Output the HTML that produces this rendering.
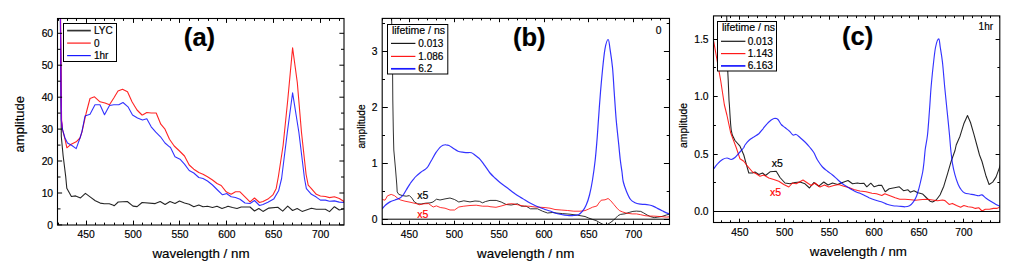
<!DOCTYPE html>
<html><head><meta charset="utf-8"><title>Spectra</title>
<style>html,body{margin:0;padding:0;background:#fff}svg{display:block}text{font-family:"Liberation Sans", sans-serif;stroke:#000;stroke-width:.18px}text[fill="#f00"]{stroke:#f00}</style>
</head><body>
<svg width="1024" height="280" viewBox="0 0 1024 280">
<rect width="1024" height="280" fill="#fff"/>
<g id="a">
<clipPath id="clipa"><rect x="57.5" y="18.5" width="286.5" height="206.5"/></clipPath>
<g clip-path="url(#clipa)" fill="none" stroke-linejoin="round">
<polyline points="60.3,0.5 60.4,19.0 61.3,136.5 63.1,155.5 65.7,176.5 66.8,188.3 71.4,196.5 75.6,195.9 80.5,197.9 85.4,193.4 90.4,197.1 95.3,200.8 100.2,203.1 104.3,203.8 109.3,203.8 113.4,205.3 114.1,205.8 118.2,202.0 127.3,201.5 133.0,206.1 137.1,206.6 142.1,202.5 155.2,203.6 160.2,201.5 165.1,204.5 170.0,201.5 175.0,203.5 179.5,201.0 184.5,203.0 189.2,204.2 193.8,206.8 198.8,205.0 203.0,206.8 207.5,206.2 212.5,207.5 217.0,206.2 222.0,208.5 226.2,207.0 228.0,206.2 232.5,207.5 237.0,208.5 241.2,207.0 250.0,207.0 254.5,211.0 258.8,208.5 263.0,211.4 268.8,208.1 277.8,207.3 282.7,211.1 287.7,206.1 292.6,210.5 297.2,208.5 302.1,211.4 311.4,208.3 316.3,209.2 325.4,209.2 329.5,211.6 334.4,206.7 339.3,210.0 344.3,208.7" stroke="#000" stroke-width="1.1" stroke-opacity="0.86"/>
<polyline points="60.5,0.5 60.6,19.0 61.2,85.5 61.6,120.5 62.6,129.9 65.0,139.2 66.9,147.8 71.2,144.2 76.2,141.8 80.0,138.0 82.0,131.8 86.2,113.0 90.0,98.5 94.5,96.8 100.0,101.8 105.0,103.0 109.5,104.8 113.8,98.0 118.0,91.0 122.5,89.2 127.5,91.8 132.0,101.8 137.0,110.0 142.0,115.0 142.5,115.0 146.8,112.5 151.2,113.0 156.2,113.0 160.8,124.2 165.0,129.2 169.5,139.2 174.2,146.0 179.5,151.0 184.5,156.0 189.2,165.0 193.8,169.2 198.8,172.5 203.0,174.2 207.5,176.8 212.5,180.0 217.0,183.5 221.2,185.5 226.2,191.8 227.5,192.5 231.2,194.2 235.5,191.8 240.0,191.8 245.0,196.8 250.0,201.8 254.5,198.0 259.5,202.5 263.0,201.5 267.9,199.1 272.9,194.9 276.2,188.4 278.4,176.5 283.1,145.5 287.8,99.5 292.6,47.9 297.3,82.5 301.5,132.5 306.1,174.5 308.2,185.1 311.4,188.6 316.3,194.3 320.4,196.0 325.4,196.5 329.5,197.6 334.4,196.8 339.3,198.5 344.3,201.7" stroke="#f00" stroke-width="1.1" stroke-opacity="0.86"/>
<polyline points="60.3,0.5 60.4,19.0 60.9,85.5 61.3,120.5 62.6,129.9 65.0,138.0 67.5,143.0 71.9,145.5 76.2,148.6 80.0,138.0 81.9,131.8 85.0,116.0 90.0,114.2 95.0,104.8 100.0,104.8 104.5,114.8 109.5,105.5 113.8,104.8 118.8,104.8 123.0,102.5 128.0,106.8 132.5,115.0 137.5,118.0 142.5,120.0 142.5,120.0 146.8,118.8 151.2,126.8 155.8,132.2 160.5,136.8 165.0,143.0 169.5,146.8 170.5,147.5 175.0,156.8 180.0,159.2 184.5,164.2 189.2,170.5 193.8,173.0 198.8,177.5 203.0,178.5 207.5,181.0 212.5,185.0 217.5,190.0 222.5,194.8 227.0,193.5 227.5,194.2 231.2,196.8 235.5,197.5 240.0,199.2 245.0,203.0 250.0,203.5 254.5,200.5 259.5,205.5 263.0,204.5 267.9,202.3 273.7,199.1 278.6,190.8 281.6,178.5 287.3,132.5 292.6,92.8 298.9,132.5 304.5,178.5 306.4,188.6 311.4,194.3 316.3,197.1 320.4,200.1 325.4,200.1 329.5,201.3 334.4,200.9 339.3,202.1 344.3,202.6" stroke="#00f" stroke-width="1.1" stroke-opacity="0.8"/>
<polyline points="60.5,0.0 60.5,19.0 61.0,85.5 61.5,120.5 62.3,127.5" stroke="#9000e0" stroke-width="1.1" stroke-opacity="0.86"/>
</g>
<rect x="57.5" y="18.5" width="286.5" height="206.5" fill="none" stroke="#000" stroke-width="1.1"/>
<path d="M58.5,225.0v-2.4M58.5,18.5v2.4M67.5,225.0v-2.4M67.5,18.5v2.4M76.5,225.0v-2.4M76.5,18.5v2.4M86.5,225.0v-4.4M86.5,18.5v4.4M95.5,225.0v-2.4M95.5,18.5v2.4M104.5,225.0v-2.4M104.5,18.5v2.4M114.5,225.0v-2.4M114.5,18.5v2.4M123.5,225.0v-2.4M123.5,18.5v2.4M133.5,225.0v-4.4M133.5,18.5v4.4M142.5,225.0v-2.4M142.5,18.5v2.4M151.5,225.0v-2.4M151.5,18.5v2.4M161.5,225.0v-2.4M161.5,18.5v2.4M170.5,225.0v-2.4M170.5,18.5v2.4M179.5,225.0v-4.4M179.5,18.5v4.4M189.5,225.0v-2.4M189.5,18.5v2.4M198.5,225.0v-2.4M198.5,18.5v2.4M208.5,225.0v-2.4M208.5,18.5v2.4M217.5,225.0v-2.4M217.5,18.5v2.4M226.5,225.0v-4.4M226.5,18.5v4.4M236.5,225.0v-2.4M236.5,18.5v2.4M245.5,225.0v-2.4M245.5,18.5v2.4M254.5,225.0v-2.4M254.5,18.5v2.4M264.5,225.0v-2.4M264.5,18.5v2.4M273.5,225.0v-4.4M273.5,18.5v4.4M283.5,225.0v-2.4M283.5,18.5v2.4M292.5,225.0v-2.4M292.5,18.5v2.4M301.5,225.0v-2.4M301.5,18.5v2.4M311.5,225.0v-2.4M311.5,18.5v2.4M320.5,225.0v-4.4M320.5,18.5v4.4M329.5,225.0v-2.4M329.5,18.5v2.4M339.5,225.0v-2.4M339.5,18.5v2.4M57.5,224.9h4.6M344.0,224.9h-4.6M57.5,208.9h3.0M344.0,208.9h-3.0M57.5,193.0h4.6M344.0,193.0h-4.6M57.5,177.0h3.0M344.0,177.0h-3.0M57.5,161.0h4.6M344.0,161.0h-4.6M57.5,145.1h3.0M344.0,145.1h-3.0M57.5,129.1h4.6M344.0,129.1h-4.6M57.5,113.1h3.0M344.0,113.1h-3.0M57.5,97.2h4.6M344.0,97.2h-4.6M57.5,81.2h3.0M344.0,81.2h-3.0M57.5,65.2h4.6M344.0,65.2h-4.6M57.5,49.3h3.0M344.0,49.3h-3.0M57.5,33.3h4.6M344.0,33.3h-4.6" stroke="#000" stroke-width="1" fill="none"/>
<g font-size="10.3" fill="#000">
<text x="86.2" y="237.8" text-anchor="middle">450</text>
<text x="133.1" y="237.8" text-anchor="middle">500</text>
<text x="180.0" y="237.8" text-anchor="middle">550</text>
<text x="226.8" y="237.8" text-anchor="middle">600</text>
<text x="273.7" y="237.8" text-anchor="middle">650</text>
<text x="320.6" y="237.8" text-anchor="middle">700</text>
<text x="53.1" y="228.6" text-anchor="end">0</text>
<text x="53.1" y="196.7" text-anchor="end">10</text>
<text x="53.1" y="164.7" text-anchor="end">20</text>
<text x="53.1" y="132.8" text-anchor="end">30</text>
<text x="53.1" y="100.9" text-anchor="end">40</text>
<text x="53.1" y="68.9" text-anchor="end">50</text>
<text x="53.1" y="37.0" text-anchor="end">60</text>
</g>
<text x="201.0" y="257.5" font-size="13.35" text-anchor="middle">wavelength / nm</text>
<text transform="translate(24.3,124.2) rotate(-90)" font-size="13" text-anchor="middle">amplitude</text>
<text x="199.5" y="45.7" font-size="25.6" font-weight="bold" text-anchor="middle">(a)</text>
</g>
<rect x="63.5" y="23.5" width="53.0" height="38.0" fill="#fff" stroke="#000" stroke-width="1"/>
<g font-size="10">
<line x1="67.1" x2="90.8" y1="30.6" y2="30.6" stroke="#000" stroke-width="1.7" stroke-opacity="0.8"/>
<text x="93.9" y="34.2">LYC</text>
<line x1="67.1" x2="90.8" y1="43.1" y2="43.1" stroke="#f00" stroke-width="1.2" stroke-opacity="0.9"/>
<text x="93.9" y="46.7">0</text>
<line x1="67.1" x2="90.8" y1="55.6" y2="55.6" stroke="#00f" stroke-width="1.2" stroke-opacity="0.9"/>
<text x="93.9" y="59.2">1hr</text>
</g>
<g id="b">
<clipPath id="clipb"><rect x="382.2" y="18.4" width="287.3" height="206.1"/></clipPath>
<g clip-path="url(#clipb)" fill="none" stroke-linejoin="round">
<polyline points="391.4,0.0 391.6,18.0 392.5,60.0 392.8,100.0 393.3,130.0 393.8,150.0 395.6,170.0 396.8,185.0 397.2,191.9 398.8,194.4 402.5,195.6 406.2,196.2 409.4,195.6 411.9,198.1 414.4,201.9 417.5,203.8 421.2,204.0 425.5,203.2 430.0,202.9 433.0,202.0 436.5,199.2 440.0,200.0 445.0,198.9 450.0,198.0 454.5,199.5 458.8,202.0 463.8,200.8 470.0,201.9 475.0,201.0 479.4,201.3 482.5,202.8 485.6,201.5 490.0,200.4 496.2,200.4 501.2,202.0 506.2,204.5 511.2,205.0 517.5,203.8 521.2,206.2 526.2,206.2 530.5,208.8 537.5,208.8 542.5,211.2 547.5,213.0 552.5,212.5 556.2,213.0 562.5,213.6 570.0,214.2 577.5,215.2 581.0,215.8 585.0,216.5 588.8,218.1 592.5,219.4 596.2,220.6 600.0,222.8 603.8,224.8 606.9,224.8 610.0,222.8 613.1,220.6 615.6,218.1 618.1,215.6 620.6,214.4 625.0,213.8 629.3,212.4 632.9,211.4 636.4,211.1 640.7,211.4 643.6,212.9 647.1,215.0 650.7,216.7 654.3,217.6 657.9,217.1 662.1,216.4 666.4,215.0 670.2,213.9" stroke="#000" stroke-width="0.95" stroke-opacity="0.86"/>
<polyline points="382.2,199.4 385.0,200.2 387.5,195.8 391.2,194.4 394.4,195.6 397.5,198.1 400.6,200.0 405.0,201.2 410.0,202.2 413.8,203.1 417.5,203.9 419.1,204.8 423.8,203.8 428.5,203.6 433.2,207.0 436.4,205.9 440.3,207.5 445.0,208.2 450.0,210.0 454.5,210.0 458.8,207.0 463.8,206.2 470.0,205.5 476.2,205.2 482.5,206.2 488.0,206.2 490.0,206.7 496.0,207.3 502.0,205.8 508.0,204.0 512.5,203.7 517.8,204.8 524.5,206.2 529.0,206.2 535.0,207.0 541.0,207.3 545.0,207.6 550.0,208.2 555.0,209.5 561.2,210.0 567.5,210.5 573.8,211.2 580.0,211.2 585.0,210.6 588.8,209.0 592.5,207.2 596.9,206.0 598.8,203.1 601.2,200.2 605.0,199.8 608.1,198.5 610.6,200.6 613.8,204.4 616.9,208.1 619.4,210.6 622.5,211.9 626.2,213.1 632.1,213.9 636.4,213.9 640.7,214.7 645.0,215.7 649.3,216.1 653.6,216.1 657.9,216.4 662.1,216.7 666.4,217.1 670.2,216.7" stroke="#f00" stroke-width="0.95" stroke-opacity="0.86"/>
<path d="M382.2,208.8C382.7,208.2 384.4,206.1 385.6,205.0C386.8,203.9 388.5,202.7 390.0,201.9C391.5,201.1 393.4,200.6 395.0,200.0C396.6,199.4 398.7,198.9 400.0,198.1C401.3,197.3 402.1,196.3 403.1,195.0C404.1,193.7 405.1,191.8 406.2,190.0C407.4,188.2 408.8,185.6 410.0,183.8C411.2,181.9 412.6,180.2 413.8,178.8C414.9,177.3 416.3,176.1 417.5,175.0C418.7,173.9 420.1,172.8 421.2,171.9C422.4,171.0 423.9,170.4 425.0,169.5C426.1,168.6 426.9,168.1 428.0,166.5C429.1,164.9 430.4,162.0 431.8,159.8C433.1,157.5 434.9,154.2 436.2,152.2C437.6,150.3 438.9,148.4 440.0,147.3C441.1,146.2 442.0,145.6 443.0,145.2C444.0,144.8 445.0,144.7 446.0,144.8C447.0,144.8 447.8,144.9 449.0,145.5C450.2,146.1 452.1,147.6 453.5,148.5C454.9,149.4 456.6,150.6 458.0,151.2C459.4,151.8 461.1,152.0 462.5,152.2C463.9,152.5 465.6,152.5 467.0,152.6C468.4,152.6 470.2,152.3 471.5,152.7C472.8,153.1 474.1,154.4 475.2,155.2C476.4,156.1 477.8,157.1 479.0,158.2C480.2,159.4 481.8,161.5 482.8,162.8C483.7,164.0 483.8,164.3 485.0,165.9C486.2,167.5 488.4,171.1 490.0,173.0C491.6,174.9 493.4,176.5 495.0,178.0C496.6,179.5 498.4,181.2 500.0,182.5C501.6,183.8 503.4,185.1 505.0,186.2C506.6,187.4 508.4,188.8 510.0,190.0C511.6,191.2 513.4,192.6 515.0,193.8C516.6,194.9 518.4,196.0 520.0,197.0C521.6,198.0 523.4,199.0 525.0,200.0C526.6,201.0 528.4,202.1 530.0,203.0C531.6,203.9 533.4,204.8 535.0,205.5C536.6,206.2 538.4,206.9 540.0,207.5C541.6,208.1 543.4,208.9 545.0,209.5C546.6,210.1 548.4,210.4 550.0,211.0C551.6,211.6 553.2,212.4 555.0,213.0C556.8,213.6 559.2,214.1 561.2,214.5C563.2,214.9 565.5,215.3 567.5,215.5C569.5,215.7 572.0,215.7 573.8,215.5C575.5,215.3 577.4,215.2 578.8,214.5C580.1,213.8 581.3,212.8 582.5,211.2C583.7,209.7 585.1,207.6 586.2,205.0C587.4,202.4 588.5,199.0 589.5,195.0C590.5,191.0 591.6,185.6 592.5,180.0C593.4,174.4 594.5,166.4 595.2,160.0C595.9,153.6 596.4,147.2 597.0,140.0C597.6,132.8 598.2,122.7 598.8,115.0C599.3,107.3 599.9,99.2 600.5,92.0C601.1,84.8 601.8,76.9 602.5,70.0C603.2,63.1 604.1,53.6 605.0,48.8C605.9,43.9 607.5,39.5 608.2,39.5C609.0,39.5 609.3,44.3 610.0,48.8C610.7,53.2 611.8,60.6 612.5,67.5C613.2,74.4 613.6,83.6 614.2,92.0C614.8,100.4 615.5,111.5 616.2,120.0C617.0,128.5 618.1,138.6 618.8,145.0C619.4,151.4 619.8,155.7 620.3,160.0C620.8,164.3 621.5,168.6 622.0,172.0C622.5,175.4 622.5,178.4 623.2,181.5C623.9,184.6 625.3,188.5 626.5,191.4C627.7,194.3 629.2,197.7 630.6,199.5C632.0,201.3 633.4,201.9 635.0,202.7C636.6,203.5 639.1,203.9 640.7,204.2C642.3,204.5 643.6,204.2 645.0,204.3C646.4,204.4 647.9,204.7 649.3,205.0C650.7,205.3 652.2,205.8 653.6,206.4C655.0,207.0 656.5,207.9 657.9,208.6C659.3,209.3 660.7,210.0 662.1,210.7C663.5,211.4 665.1,212.3 666.4,212.9C667.7,213.5 669.6,214.1 670.2,214.3" stroke="#00f" stroke-width="1.2" stroke-opacity="0.8"/>
</g>
<line x1="382.2" x2="669.5" y1="219.2" y2="219.2" stroke="#000" stroke-width="1"/>
<rect x="382.2" y="18.4" width="287.3" height="206.1" fill="none" stroke="#000" stroke-width="1.1"/>
<path d="M382.5,224.5v-2.0M382.5,18.4v2.0M391.5,224.5v-2.0M391.5,18.4v2.0M400.5,224.5v-2.0M400.5,18.4v2.0M409.5,224.5v-3.8M409.5,18.4v3.8M418.5,224.5v-2.0M418.5,18.4v2.0M427.5,224.5v-2.0M427.5,18.4v2.0M436.5,224.5v-2.0M436.5,18.4v2.0M445.5,224.5v-2.0M445.5,18.4v2.0M454.5,224.5v-3.8M454.5,18.4v3.8M463.5,224.5v-2.0M463.5,18.4v2.0M472.5,224.5v-2.0M472.5,18.4v2.0M481.5,224.5v-2.0M481.5,18.4v2.0M490.5,224.5v-2.0M490.5,18.4v2.0M499.5,224.5v-3.8M499.5,18.4v3.8M508.5,224.5v-2.0M508.5,18.4v2.0M517.5,224.5v-2.0M517.5,18.4v2.0M526.5,224.5v-2.0M526.5,18.4v2.0M535.5,224.5v-2.0M535.5,18.4v2.0M544.5,224.5v-3.8M544.5,18.4v3.8M552.5,224.5v-2.0M552.5,18.4v2.0M561.5,224.5v-2.0M561.5,18.4v2.0M570.5,224.5v-2.0M570.5,18.4v2.0M579.5,224.5v-2.0M579.5,18.4v2.0M588.5,224.5v-3.8M588.5,18.4v3.8M597.5,224.5v-2.0M597.5,18.4v2.0M606.5,224.5v-2.0M606.5,18.4v2.0M615.5,224.5v-2.0M615.5,18.4v2.0M624.5,224.5v-2.0M624.5,18.4v2.0M633.5,224.5v-3.8M633.5,18.4v3.8M642.5,224.5v-2.0M642.5,18.4v2.0M651.5,224.5v-2.0M651.5,18.4v2.0M660.5,224.5v-2.0M660.5,18.4v2.0M382.2,219.5h5.6M669.5,219.5h-5.6M382.2,191.5h2.8M669.5,191.5h-2.8M382.2,163.5h5.6M669.5,163.5h-5.6M382.2,135.5h2.8M669.5,135.5h-2.8M382.2,107.5h5.6M669.5,107.5h-5.6M382.2,79.5h2.8M669.5,79.5h-2.8M382.2,51.5h5.6M669.5,51.5h-5.6M382.2,23.5h2.8M669.5,23.5h-2.8" stroke="#000" stroke-width="1" fill="none"/>
<g font-size="10.3" fill="#000">
<text x="409.4" y="237.8" text-anchor="middle">450</text>
<text x="454.3" y="237.8" text-anchor="middle">500</text>
<text x="499.1" y="237.8" text-anchor="middle">550</text>
<text x="544.0" y="237.8" text-anchor="middle">600</text>
<text x="588.9" y="237.8" text-anchor="middle">650</text>
<text x="633.7" y="237.8" text-anchor="middle">700</text>
<text x="377.6" y="222.9" text-anchor="end">0</text>
<text x="377.6" y="167.0" text-anchor="end">1</text>
<text x="377.6" y="111.1" text-anchor="end">2</text>
<text x="377.6" y="55.2" text-anchor="end">3</text>
</g>
<text x="525.7" y="257.6" font-size="13.35" text-anchor="middle">wavelength / nm</text>
<text transform="translate(364.5,126.5) rotate(-90)" font-size="10.2" text-anchor="middle">amplitude</text>
<text x="529.3" y="45.7" font-size="25.6" font-weight="bold" text-anchor="middle">(b)</text>
</g>
<rect x="387.5" y="24.5" width="60.3" height="49.5" fill="#fff" stroke="#000" stroke-width="1"/>
<g font-size="10">
<text x="391.9" y="33.8" font-size="10.5">lifetime / ns</text>
<line x1="391" x2="415.4" y1="43.4" y2="43.4" stroke="#000" stroke-width="1.2" stroke-opacity="0.9"/>
<text x="418.3" y="47.0">0.013</text>
<line x1="391" x2="415.4" y1="56.4" y2="56.4" stroke="#f00" stroke-width="1.2" stroke-opacity="0.9"/>
<text x="418.3" y="60.0">1.086</text>
<line x1="391" x2="415.4" y1="68.8" y2="68.8" stroke="#00f" stroke-width="1.7" stroke-opacity="0.9"/>
<text x="418.3" y="72.4">6.2</text>
</g>
<text x="655.8" y="34.3" font-size="10.3">0</text>
<text x="417.3" y="198.5" font-size="10.5">x5</text>
<text x="417.3" y="217.6" font-size="10.5" fill="#f00">x5</text>
<g id="c">
<clipPath id="clipc"><rect x="713.5" y="15.9" width="286.29999999999995" height="206.6"/></clipPath>
<g clip-path="url(#clipc)" fill="none" stroke-linejoin="round">
<polyline points="726.5,0.0 726.7,16.0 727.8,72.0 728.2,80.0 729.0,100.0 729.4,105.0 730.0,115.0 730.6,123.8 731.2,130.0 732.3,135.0 735.0,140.5 740.0,146.2 743.8,155.0 746.2,163.8 748.8,173.0 752.5,173.0 755.0,172.0 758.8,174.5 762.5,173.0 765.5,175.5 770.0,171.8 776.2,171.2 780.0,177.5 785.0,183.0 790.0,183.8 795.0,182.5 800.0,182.0 805.0,183.8 809.5,188.0 813.8,182.5 818.8,186.2 823.8,182.0 828.0,185.0 832.5,183.0 837.5,184.5 842.5,182.5 848.0,180.5 852.5,183.8 857.5,183.0 860.0,183.5 863.8,183.2 866.8,186.8 870.8,183.2 874.2,186.8 878.0,185.4 881.8,185.4 885.2,191.8 889.2,188.8 894.5,187.7 899.3,186.8 903.5,190.7 908.0,189.8 910.2,192.2 914.0,190.7 917.8,192.8 920.0,193.2 922.5,193.9 926.2,197.5 930.0,201.2 932.5,202.0 936.2,200.0 940.0,195.0 943.8,186.2 947.5,173.8 951.2,161.2 955.0,150.5 956.2,145.0 960.0,136.2 963.8,123.8 967.5,115.5 970.5,122.5 973.8,133.8 977.5,147.5 979.5,155.0 982.0,161.5 986.1,176.3 989.1,184.5 992.7,182.1 996.0,177.1 999.3,168.1 1000.6,164.0" stroke="#000" stroke-width="1.08" stroke-opacity="0.86"/>
<polyline points="713.7,41.4 720.6,80.0 724.4,105.0 726.9,115.0 728.8,123.8 730.6,132.5 733.1,139.4 736.2,147.5 740.0,158.8 743.8,161.2 747.5,166.2 752.5,172.0 756.2,173.8 760.0,176.2 763.8,175.0 768.8,178.0 773.8,179.5 778.8,181.2 783.8,184.5 788.8,187.0 792.5,183.0 796.2,183.8 799.5,182.0 803.0,180.0 807.5,183.0 811.2,185.5 815.0,183.0 820.0,187.0 824.5,185.0 828.8,187.0 833.8,185.5 838.8,184.5 843.8,186.2 848.8,187.5 853.8,189.5 858.8,190.7 860.0,191.0 866.0,191.8 872.0,193.2 876.5,193.7 881.8,195.5 884.8,193.7 890.0,195.8 895.2,197.8 899.8,199.2 905.0,199.2 911.0,199.7 915.5,200.3 920.0,199.7 922.5,199.5 927.5,199.2 932.5,200.0 937.5,200.8 942.5,200.0 945.0,200.6 949.1,204.4 952.4,203.4 956.5,205.6 960.6,207.2 963.9,205.6 968.0,206.7 972.1,207.2 975.4,208.4 978.7,207.7 982.0,211.0 985.3,209.3 989.4,209.3 993.5,208.4 996.8,208.4 1000.6,206.7" stroke="#f00" stroke-width="1.08" stroke-opacity="0.86"/>
<path d="M713.8,168.8C714.4,167.9 716.1,165.2 717.5,163.8C718.9,162.3 721.0,160.4 722.5,159.5C724.0,158.6 725.6,158.0 727.0,158.0C728.4,158.0 730.0,159.6 731.2,159.5C732.5,159.4 733.7,158.6 735.0,157.5C736.3,156.4 738.1,154.1 739.5,152.5C740.9,150.9 742.9,148.7 743.8,147.5C744.6,146.3 744.2,146.1 745.0,145.0C745.8,143.9 747.4,141.8 748.8,140.5C750.1,139.2 752.1,138.1 753.8,137.0C755.4,135.9 757.3,135.1 758.8,133.8C760.2,132.4 761.7,130.3 763.0,128.8C764.3,127.2 765.7,125.2 767.0,123.8C768.3,122.3 770.0,120.9 771.2,120.0C772.5,119.1 773.9,118.3 775.0,118.2C776.1,118.2 777.0,118.5 778.0,119.5C779.0,120.5 780.1,123.2 781.2,124.5C782.4,125.8 783.7,126.4 785.0,127.5C786.3,128.6 788.2,130.1 789.5,131.2C790.8,132.4 791.9,134.5 793.0,135.0C794.1,135.5 795.1,134.1 796.2,134.5C797.4,134.9 798.6,136.3 800.0,137.5C801.4,138.7 803.4,140.4 805.0,142.0C806.6,143.6 808.6,145.8 810.0,147.5C811.4,149.2 812.5,150.5 813.8,152.5C815.0,154.5 816.1,157.7 817.5,160.0C818.9,162.3 820.9,165.2 822.5,167.0C824.1,168.8 825.9,170.0 827.5,171.2C829.1,172.5 830.9,173.7 832.5,175.0C834.1,176.3 835.9,178.1 837.5,179.5C839.1,180.9 840.9,182.6 842.5,183.8C844.1,184.9 845.9,186.0 847.5,187.0C849.1,188.0 850.9,189.1 852.5,190.0C854.1,190.9 856.3,192.0 857.5,192.5C858.7,193.0 858.9,192.8 860.0,193.2C861.1,193.7 863.1,194.8 864.5,195.5C865.9,196.2 867.3,197.0 869.0,197.8C870.7,198.5 872.8,199.3 875.0,200.0C877.2,200.7 880.6,201.6 882.5,202.2C884.4,202.9 885.3,203.7 887.0,204.3C888.7,204.9 891.1,205.4 893.0,205.7C894.9,206.0 897.1,206.0 899.0,206.2C900.9,206.4 903.3,206.8 905.0,206.8C906.7,206.7 908.2,206.4 909.5,205.7C910.8,205.0 912.1,203.8 913.2,202.2C914.4,200.7 915.6,198.4 916.5,196.2C917.4,194.1 918.2,191.0 918.8,188.8C919.4,186.5 919.9,184.7 920.5,182.0C921.1,179.3 922.1,175.2 922.7,172.0C923.3,168.8 923.6,165.6 924.0,162.0C924.4,158.4 924.7,153.8 925.2,149.5C925.8,145.2 926.8,141.3 927.5,135.0C928.2,128.7 928.9,117.7 929.5,110.0C930.1,102.3 930.5,93.8 931.1,87.0C931.7,80.2 932.3,73.8 933.0,67.5C933.7,61.2 934.6,52.1 935.5,47.5C936.4,42.9 938.0,38.8 938.8,38.8C939.5,38.8 939.7,43.7 940.3,47.5C940.9,51.3 941.8,56.2 942.5,62.5C943.2,68.8 944.0,79.4 944.7,87.0C945.4,94.6 946.2,102.3 947.0,110.0C947.8,117.7 948.9,128.3 949.5,135.0C950.1,141.7 950.5,147.5 951.0,152.0C951.5,156.5 951.8,159.6 952.4,163.2C953.0,166.8 954.0,171.3 954.9,174.7C955.8,178.1 957.2,182.1 958.2,184.5C959.2,186.9 960.4,188.7 961.4,190.0C962.4,191.3 963.4,192.3 964.7,192.9C966.0,193.5 968.1,193.7 969.7,194.0C971.3,194.3 973.2,194.6 974.6,194.9C976.0,195.2 977.5,195.7 978.7,195.7C979.9,195.7 980.8,194.5 982.0,194.9C983.2,195.3 984.6,197.2 986.1,198.2C987.6,199.2 989.5,200.4 991.1,201.4C992.7,202.4 994.5,203.6 996.0,204.4C997.5,205.2 999.9,206.2 1000.6,206.6" stroke="#00f" stroke-width="1.15" stroke-opacity="0.8"/>
</g>
<line x1="713.5" x2="999.8" y1="211.5" y2="211.5" stroke="#000" stroke-width="1"/>
<rect x="713.5" y="15.9" width="286.3" height="206.6" fill="none" stroke="#000" stroke-width="1.1"/>
<path d="M721.5,222.5v-2.2M721.5,15.9v2.2M730.5,222.5v-2.2M730.5,15.9v2.2M739.5,222.5v-3.8M739.5,15.9v3.8M748.5,222.5v-2.2M748.5,15.9v2.2M757.5,222.5v-2.2M757.5,15.9v2.2M766.5,222.5v-2.2M766.5,15.9v2.2M775.5,222.5v-2.2M775.5,15.9v2.2M784.5,222.5v-3.8M784.5,15.9v3.8M793.5,222.5v-2.2M793.5,15.9v2.2M802.5,222.5v-2.2M802.5,15.9v2.2M811.5,222.5v-2.2M811.5,15.9v2.2M820.5,222.5v-2.2M820.5,15.9v2.2M829.5,222.5v-3.8M829.5,15.9v3.8M838.5,222.5v-2.2M838.5,15.9v2.2M847.5,222.5v-2.2M847.5,15.9v2.2M856.5,222.5v-2.2M856.5,15.9v2.2M865.5,222.5v-2.2M865.5,15.9v2.2M874.5,222.5v-3.8M874.5,15.9v3.8M883.5,222.5v-2.2M883.5,15.9v2.2M892.5,222.5v-2.2M892.5,15.9v2.2M901.5,222.5v-2.2M901.5,15.9v2.2M909.5,222.5v-2.2M909.5,15.9v2.2M918.5,222.5v-3.8M918.5,15.9v3.8M927.5,222.5v-2.2M927.5,15.9v2.2M936.5,222.5v-2.2M936.5,15.9v2.2M945.5,222.5v-2.2M945.5,15.9v2.2M954.5,222.5v-2.2M954.5,15.9v2.2M963.5,222.5v-3.8M963.5,15.9v3.8M972.5,222.5v-2.2M972.5,15.9v2.2M981.5,222.5v-2.2M981.5,15.9v2.2M990.5,222.5v-2.2M990.5,15.9v2.2M999.5,222.5v-2.2M999.5,15.9v2.2M713.5,211.5h4.2M999.8,211.5h-4.2M713.5,182.5h2.4M999.8,182.5h-2.4M713.5,154.5h4.2M999.8,154.5h-4.2M713.5,125.5h2.4M999.8,125.5h-2.4M713.5,96.5h4.2M999.8,96.5h-4.2M713.5,67.5h2.4M999.8,67.5h-2.4M713.5,39.5h4.2M999.8,39.5h-4.2" stroke="#000" stroke-width="1" fill="none"/>
<g font-size="10.3" fill="#000">
<text x="739.8" y="235.7" text-anchor="middle">450</text>
<text x="784.6" y="235.7" text-anchor="middle">500</text>
<text x="829.4" y="235.7" text-anchor="middle">550</text>
<text x="874.2" y="235.7" text-anchor="middle">600</text>
<text x="919.0" y="235.7" text-anchor="middle">650</text>
<text x="963.8" y="235.7" text-anchor="middle">700</text>
<text x="708.5" y="215.2" text-anchor="end">0.0</text>
<text x="708.5" y="157.8" text-anchor="end">0.5</text>
<text x="708.5" y="100.4" text-anchor="end">1.0</text>
<text x="708.5" y="43.0" text-anchor="end">1.5</text>
</g>
<text x="858.4" y="255.5" font-size="13.35" text-anchor="middle">wavelength / nm</text>
<text transform="translate(686.6,125.4) rotate(-90)" font-size="10.4" text-anchor="middle">amplitude</text>
<text x="857.7" y="45.3" font-size="25.6" font-weight="bold" text-anchor="middle">(c)</text>
</g>
<rect x="717.5" y="21.5" width="59.0" height="49.5" fill="#fff" stroke="#000" stroke-width="1"/>
<g font-size="10.1">
<text x="721.9" y="31.4" font-size="10.5">lifetime / ns</text>
<line x1="721" x2="745.4" y1="41.3" y2="41.3" stroke="#000" stroke-width="1.2" stroke-opacity="0.9"/>
<text x="747.7" y="44.5">0.013</text>
<line x1="721" x2="745.4" y1="53.6" y2="53.6" stroke="#f00" stroke-width="1.2" stroke-opacity="0.9"/>
<text x="747.7" y="56.8">1.143</text>
<line x1="721" x2="745.4" y1="65.9" y2="65.9" stroke="#00f" stroke-width="1.7" stroke-opacity="0.9"/>
<text x="747.7" y="69.1">6.163</text>
</g>
<text x="978.6" y="30" font-size="10">1hr</text>
<text x="771.8" y="167" font-size="10.5">x5</text>
<text x="770.1" y="195.5" font-size="10.5" fill="#f00">x5</text>
</svg>
</body></html>
